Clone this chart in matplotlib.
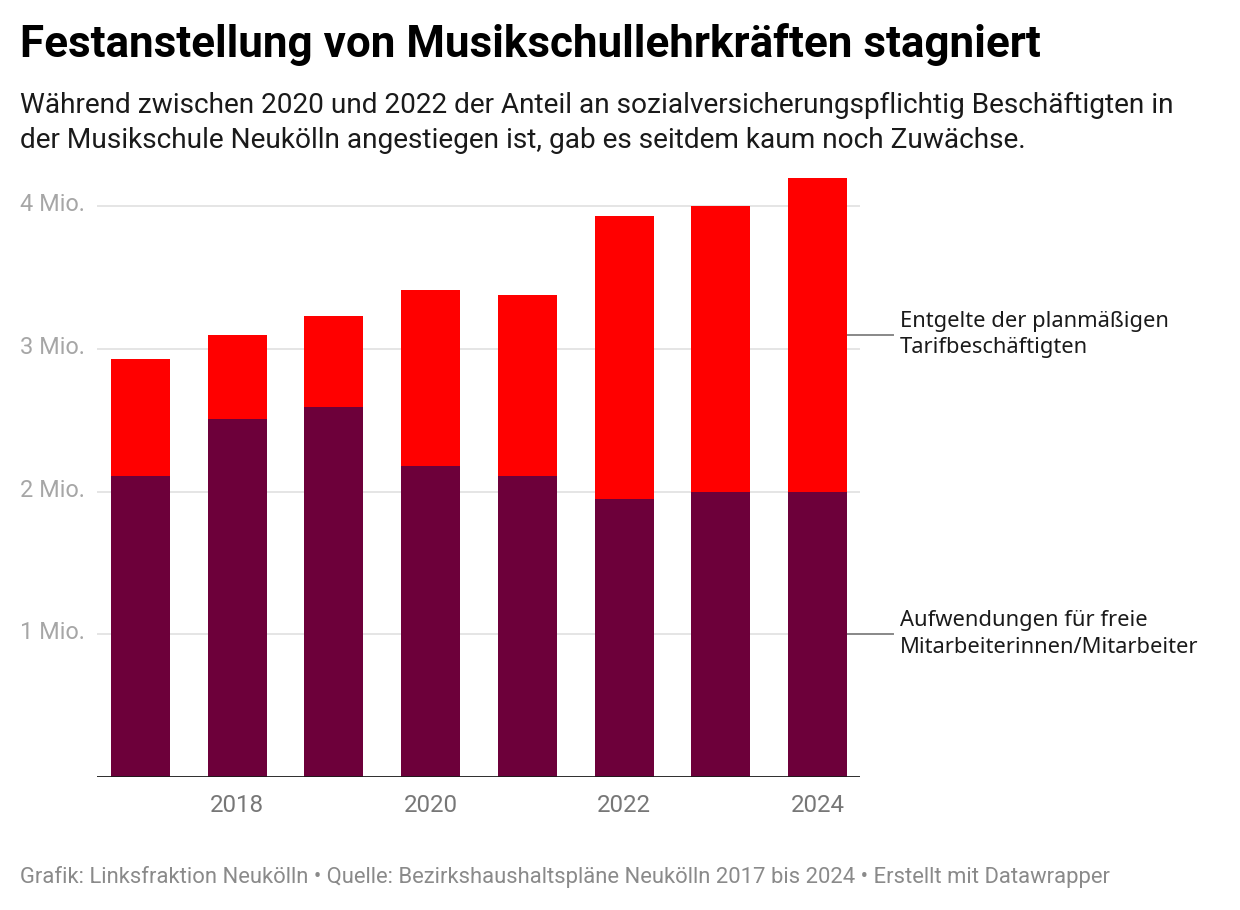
import matplotlib
matplotlib.use("Agg")
import matplotlib.pyplot as plt
from matplotlib.transforms import blended_transform_factory

years = [2017, 2018, 2019, 2020, 2021, 2022, 2023, 2024]
freie = [2.11, 2.51, 2.59, 2.18, 2.11, 1.95, 2.00, 2.00]          # Mio.
tarif = [0.82, 0.59, 0.64, 1.23, 1.27, 1.98, 2.00, 2.20]          # Mio.
ytick_vals = [1, 2, 3, 4]
ytick_labels = ["1 Mio.", "2 Mio.", "3 Mio.", "4 Mio."]
xtick_vals = [2018, 2020, 2022, 2024]
series_labels = ["Aufwendungen für freie\nMitarbeiterinnen/Mitarbeiter",
                 "Entgelte der planmäßigen\nTarifbeschäftigten"]

title = "Festanstellung von Musikschullehrkräften stagniert"
subtitle = ("Während zwischen 2020 und 2022 der Anteil an sozialversicherungspflichtig Beschäftigten in\n"
            "der Musikschule Neukölln angestiegen ist, gab es seitdem kaum noch Zuwächse.")
footer = ("Grafik: Linksfraktion Neukölln • Quelle: Bezirkshaushaltspläne Neukölln 2017 bis 2024 "
          "• Erstellt mit Datawrapper")

C_FREIE = "#6d003a"
C_TARIF = "#ff0000"

W, H = 1240, 910
fig = plt.figure(figsize=(W / 100, H / 100), dpi=100)
fig.patch.set_facecolor("white")

def fx(px):
    return px / W

def fy(py):
    return 1 - py / H

ax_left, ax_right, ax_bottom = 97, 860, 777
ax_top = 177.5
ax = fig.add_axes([fx(ax_left), fy(ax_bottom), fx(ax_right - ax_left), (ax_bottom - ax_top) / H])
ax.set_xlim(2016.55, 2024.44)
ax.set_ylim(0, 4.2)

for s in ax.spines.values():
    s.set_visible(False)

for v in ytick_vals:
    ax.axhline(v, color="#e3e3e3", lw=1.3, zorder=0)

bw = 0.61
ax.bar(years, freie, width=bw, color=C_FREIE, zorder=2, linewidth=0)
ax.bar(years, tarif, bottom=freie, width=bw, color=C_TARIF, zorder=2, linewidth=0)
ax.axhline(0, color="#1a1a1a", lw=2, zorder=3)

ax.set_yticks([])
ax.set_xticks(xtick_vals)
ax.set_xticklabels([str(x) for x in xtick_vals], fontfamily="Roboto", fontsize=17.3, color="#777777")
ax.tick_params(axis="x", length=0, pad=12)

# y tick labels at left edge of figure
ytr = blended_transform_factory(fig.transFigure, ax.transData)
for v, lab in zip(ytick_vals, ytick_labels):
    fig.text(fx(20), v + 0.01, lab, transform=ytr, ha="left", va="center",
             fontfamily="Roboto", fontsize=16.9, color="#a6a6a6")

# series labels with connector lines at middle of last bar segments
mid_freie = freie[-1] / 2
mid_tarif = freie[-1] + tarif[-1] / 2
for mid, lab in zip([mid_freie, mid_tarif], series_labels):
    ax.plot([fx(848), fx(893)], [mid, mid], transform=ytr, color="#888888", lw=1.4,
            clip_on=False, zorder=4)
    fig.text(fx(900), mid, lab, transform=ytr, ha="left", va="center",
             fontfamily="Noto Sans", fontsize=15.8, color="#1a1a1a", linespacing=1.35)

fig.text(fx(20), fy(45), title, ha="left", va="center", fontfamily="Roboto",
         fontweight="bold", fontsize=31.7, color="#000000")
fig.text(fx(20), fy(123), subtitle, ha="left", va="center", fontfamily="Roboto",
         fontsize=20.2, color="#1a1a1a", linespacing=1.36)
fig.text(fx(20), fy(877), footer, ha="left", va="center", fontfamily="Roboto",
         fontsize=15.85, color="#8a8a8a")

fig.savefig("out.png", dpi=100, facecolor="white")
